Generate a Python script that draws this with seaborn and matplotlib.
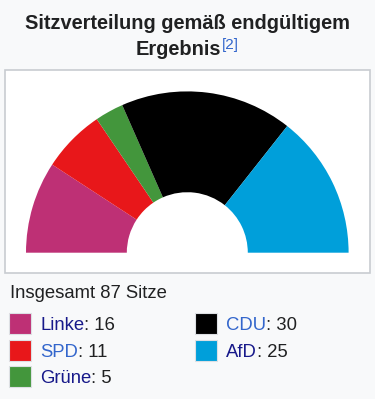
import matplotlib
matplotlib.use("Agg")
import matplotlib.pyplot as plt
from matplotlib.patches import Rectangle
import seaborn as sns

# ---- data ----
parties = ["Linke", "SPD", "Grüne", "CDU", "AfD"]
seats = [16, 11, 5, 30, 25]
party_colors = ["#BE3075", "#E8171A", "#43963C", "#000000", "#009FDA"]
name_colors = ["#17198a", "#3366cc", "#17198a", "#3366cc", "#17198a"]
total_label = "Insgesamt 87 Sitze"
title_line1 = "Sitzverteilung gemäß endgültigem"
title_line2 = "Ergebnis"
title_ref = "[2]"

sns.set_theme(style="white")
plt.rcParams["font.family"] = ["Liberation Sans", "DejaVu Sans"]

W, H = 375, 399
fig = plt.figure(figsize=(W / 100, H / 100), dpi=100, facecolor="#f8f9fa")


def fx(x):
    return x / W


def fy(y):
    return 1 - y / H


TXT = "#202122"

# title
fig.text(fx(187.5), fy(29.3), title_line1, ha="center", va="baseline",
         fontsize=14.4, fontweight="bold", color=TXT)
renderer = fig.canvas.get_renderer()
t2 = fig.text(0, fy(55), title_line2, ha="left", va="baseline",
              fontsize=14.4, fontweight="bold", color=TXT)
t3 = fig.text(0, fy(49), title_ref, ha="left", va="baseline",
              fontsize=11, color="#3366cc")
w2 = t2.get_window_extent(renderer).width
w3 = t3.get_window_extent(renderer).width
x0 = 187.5 - (w2 + 1 + w3) / 2
t2.set_x(fx(x0))
t3.set_x(fx(x0 + w2 + 1))

# white box
box = Rectangle((fx(4.5), fy(273)), fx(370 - 4.5), (273 - 70) / H,
                transform=fig.transFigure, facecolor="white",
                edgecolor="#c8ccd1", linewidth=1.2, zorder=-5)
fig.patches.append(box)

# semicircle
cx, cy, R = 187.3, 252.7, 161.3
ax = fig.add_axes([fx(cx - R), fy(cy), fx(2 * R), R / H], zorder=2)
ax.patch.set_alpha(0)
vals = seats + [sum(seats)]
cols = party_colors + [(0, 0, 0, 0)]
ax.pie(vals, colors=cols, startangle=180, counterclock=False, radius=1,
       wedgeprops=dict(width=0.625, linewidth=0))
ax.set_aspect("auto")
ax.set_xlim(-1, 1)
ax.set_ylim(0, 1)
ax.axis("off")

# legend
fig.text(fx(10), fy(298.3), total_label, ha="left", va="baseline",
         fontsize=13.3, color=TXT)

col_x = [9, 195]
row_y = [330, 356.7, 382.7]
positions = [(0, 0), (0, 1), (0, 2), (1, 0), (1, 1)]
for (name, n, c, nc), (ci, ri) in zip(zip(parties, seats, party_colors, name_colors), positions):
    sx = col_x[ci]
    by = row_y[ri]
    sq = Rectangle((fx(sx), fy(by + 4)), 22 / W, 21 / H, transform=fig.transFigure,
                   facecolor=c, edgecolor="#dde0e4", linewidth=0.8)
    fig.patches.append(sq)
    tn = fig.text(fx(sx + 31), fy(by), name, ha="left", va="baseline",
                  fontsize=13.3, color=nc)
    wn = tn.get_window_extent(renderer).width
    fig.text(fx(sx + 31 + wn), fy(by), f": {n}", ha="left", va="baseline",
             fontsize=13.3, color=TXT)

fig.savefig("out.png", dpi=100, facecolor=fig.get_facecolor())
